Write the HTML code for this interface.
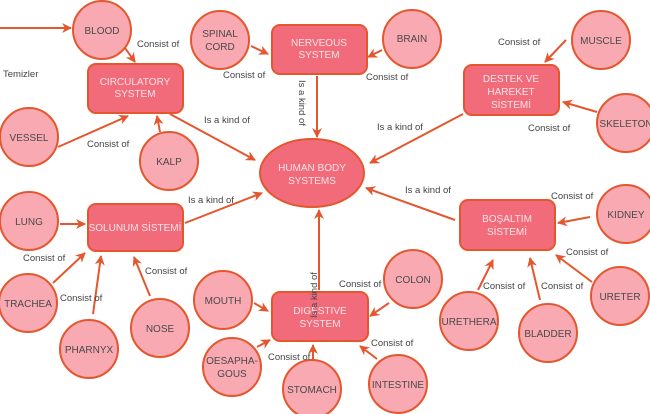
<!DOCTYPE html>
<html><head><meta charset="utf-8"><style>
html,body{margin:0;padding:0;background:#fff;width:650px;height:414px;overflow:hidden}
svg{display:block}
text{font-family:"Liberation Sans",sans-serif}
.c{fill:#f9a9b1;stroke:#e4572e;stroke-width:2}
.r{fill:#f26b7a;stroke:#e4572e;stroke-width:2}
.ct{font-size:10px;fill:#4a4a4a;text-anchor:middle}
.rt{font-size:10px;fill:#fde4e8;text-anchor:middle}
.l{font-size:9.5px;fill:#444}
.e{stroke:#e4572e;stroke-width:2;fill:none;marker-end:url(#a)}
</style></head><body>
<svg width="650" height="414" viewBox="0 0 650 414">
<defs><marker id="a" viewBox="0 0 10 10" refX="9" refY="5" markerWidth="5" markerHeight="5" orient="auto"><path d="M0,0 L10,5 L0,10 L3,5z" fill="#e4572e"/></marker></defs>
<g>
<line class="e" x1="0" y1="28" x2="71" y2="28"/>
<line class="e" x1="125" y1="48" x2="135" y2="62"/>
<line class="e" x1="170" y1="114" x2="255" y2="160"/>
<line class="e" x1="58" y1="147" x2="128" y2="116"/>
<line class="e" x1="160" y1="132" x2="157" y2="116"/>
<line class="e" x1="251" y1="46" x2="268" y2="54"/>
<line class="e" x1="382" y1="50" x2="368" y2="57"/>
<line class="e" x1="317" y1="76" x2="317" y2="137"/>
<line class="e" x1="566" y1="40" x2="545" y2="62"/>
<line class="e" x1="597" y1="112" x2="563" y2="102"/>
<line class="e" x1="463" y1="114" x2="370" y2="163"/>
<line class="e" x1="185" y1="223" x2="262" y2="193"/>
<line class="e" x1="60" y1="224" x2="85" y2="224"/>
<line class="e" x1="53" y1="283" x2="85" y2="253"/>
<line class="e" x1="93" y1="314" x2="101" y2="256"/>
<line class="e" x1="150" y1="296" x2="134" y2="257"/>
<line class="e" x1="254" y1="303" x2="268" y2="311"/>
<line class="e" x1="257" y1="347" x2="270" y2="340"/>
<line class="e" x1="313" y1="360" x2="313" y2="345"/>
<line class="e" x1="389" y1="303" x2="370" y2="316"/>
<line class="e" x1="377" y1="359" x2="360" y2="346"/>
<line class="e" x1="319" y1="290" x2="319" y2="210"/>
<line class="e" x1="455" y1="220" x2="366" y2="188"/>
<line class="e" x1="590" y1="217" x2="558" y2="223"/>
<line class="e" x1="592" y1="282" x2="556" y2="255"/>
<line class="e" x1="540" y1="300" x2="530" y2="258"/>
<line class="e" x1="478" y1="290" x2="493" y2="260"/>
</g>
<g>
<circle class="c" cx="102" cy="30" r="29"/><text class="ct" x="102" y="34" font-size="11">BLOOD</text>
<circle class="c" cx="220" cy="40" r="29"/><text class="ct" x="220" y="37">SPINAL</text><text class="ct" x="220" y="50">CORD</text>
<circle class="c" cx="412" cy="39" r="29"/><text class="ct" x="412" y="42">BRAIN</text>
<circle class="c" cx="601" cy="40" r="29"/><text class="ct" x="601" y="44">MUSCLE</text>
<circle class="c" cx="626" cy="123" r="29"/><text class="ct" x="626" y="127">SKELETON</text>
<circle class="c" cx="29" cy="137" r="29"/><text class="ct" x="29" y="141">VESSEL</text>
<circle class="c" cx="169" cy="161" r="29"/><text class="ct" x="169" y="165">KALP</text>
<circle class="c" cx="29" cy="221" r="29"/><text class="ct" x="29" y="225">LUNG</text>
<circle class="c" cx="28" cy="303" r="29"/><text class="ct" x="28" y="307">TRACHEA</text>
<circle class="c" cx="89" cy="349" r="29"/><text class="ct" x="89" y="353">PHARNYX</text>
<circle class="c" cx="160" cy="328" r="29"/><text class="ct" x="160" y="332">NOSE</text>
<circle class="c" cx="223" cy="300" r="29"/><text class="ct" x="223" y="304">MOUTH</text>
<circle class="c" cx="232" cy="367" r="29"/><text class="ct" x="232" y="364">OESAPHA-</text><text class="ct" x="232" y="377">GOUS</text>
<circle class="c" cx="312" cy="389" r="29"/><text class="ct" x="312" y="393">STOMACH</text>
<circle class="c" cx="413" cy="279" r="29"/><text class="ct" x="413" y="283">COLON</text>
<circle class="c" cx="398" cy="384" r="29"/><text class="ct" x="398" y="388">INTESTINE</text>
<circle class="c" cx="469" cy="321" r="29"/><text class="ct" x="469" y="325">URETHERA</text>
<circle class="c" cx="548" cy="333" r="29"/><text class="ct" x="548" y="337">BLADDER</text>
<circle class="c" cx="620" cy="296" r="29"/><text class="ct" x="620" y="300">URETER</text>
<circle class="c" cx="626" cy="214" r="29"/><text class="ct" x="626" y="218">KIDNEY</text>
</g>
<g>
<rect class="r" x="88" y="64" width="95" height="49" rx="8"/><text class="rt" x="135" y="85">CIRCULATORY</text><text class="rt" x="135" y="97">SYSTEM</text>
<rect class="r" x="272" y="25" width="95" height="49" rx="8"/><text class="rt" x="319" y="46">NERVEOUS</text><text class="rt" x="319" y="58">SYSTEM</text>
<rect class="r" x="464" y="65" width="95" height="50" rx="8"/><text class="rt" x="511" y="82">DESTEK VE</text><text class="rt" x="511" y="95">HAREKET</text><text class="rt" x="511" y="108">SİSTEMİ</text>
<rect class="r" x="88" y="204" width="95" height="47" rx="8"/><text class="rt" x="135" y="231">SOLUNUM SİSTEMİ</text>
<rect class="r" x="272" y="292" width="96" height="49" rx="8"/><text class="rt" x="320" y="314">DIGESTIVE</text><text class="rt" x="320" y="327">SYSTEM</text>
<rect class="r" x="460" y="200" width="95" height="50" rx="8"/><text class="rt" x="507" y="222">BOŞALTIM</text><text class="rt" x="507" y="235">SİSTEMİ</text>
<ellipse class="r" cx="312" cy="173" rx="52" ry="34"/><text class="rt" x="312" y="171">HUMAN BODY</text><text class="rt" x="312" y="184">SYSTEMS</text>
</g>
<g class="l">
<text class="l" x="3" y="77">Temizler</text>
<text class="l" x="137" y="47">Consist of</text>
<text class="l" x="223" y="78">Consist of</text>
<text class="l" x="204" y="123">Is a kind of</text>
<text class="l" x="87" y="147">Consist of</text>
<text class="l" x="188" y="203">Is a kind of</text>
<text class="l" x="366" y="80">Consist of</text>
<text class="l" x="498" y="45">Consist of</text>
<text class="l" x="528" y="131">Consist of</text>
<text class="l" x="377" y="130">Is a kind of</text>
<text class="l" x="405" y="193">Is a kind of</text>
<text class="l" x="551" y="199">Consist of</text>
<text class="l" x="566" y="255">Consist of</text>
<text class="l" x="483" y="289">Consist of</text>
<text class="l" x="541" y="289">Consist of</text>
<text class="l" x="339" y="287">Consist of</text>
<text class="l" x="371" y="346">Consist of</text>
<text class="l" x="23" y="261">Consist of</text>
<text class="l" x="60" y="301">Consist of</text>
<text class="l" x="145" y="274">Consist of</text>
<text class="l" x="268" y="360">Consist of</text>
<text class="l" transform="translate(299,80) rotate(90)">Is a kind of</text>
<text class="l" transform="translate(317,318) rotate(-90)">Is a kind of</text>
</g>
</svg>
</body></html>
